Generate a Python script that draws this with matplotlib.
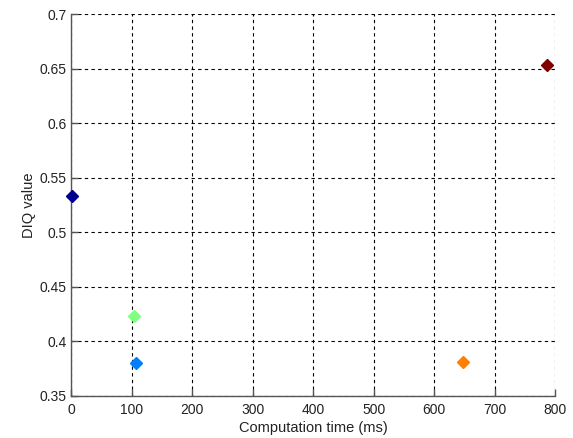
import matplotlib
matplotlib.use("Agg")
import matplotlib.pyplot as plt

# computation time (ms) vs DIQ value for each method
times = [2, 104, 107, 647, 786]
diq = [0.533, 0.4235, 0.380, 0.381, 0.653]
colors = ["#00008f", "#80ff80", "#0080ff", "#ff8000", "#800000"]

plt.rcParams['font.family'] = ['Liberation Sans', 'DejaVu Sans']

fig = plt.figure(figsize=(5.73, 4.38), dpi=100)
ax = fig.add_axes([0.124, 0.096, 0.845, 0.872])

for t, d, c in zip(times, diq, colors):
    ax.plot(t, d, marker='D', markersize=6, color=c, linestyle='none', clip_on=False, zorder=3)

ax.set_xlim(0, 800)
ax.set_ylim(0.35, 0.7)
ax.set_xticks(range(0, 801, 100))
ax.set_yticks([0.35, 0.4, 0.45, 0.5, 0.55, 0.6, 0.65, 0.7])
ax.set_yticklabels(['0.35', '0.4', '0.45', '0.5', '0.55', '0.6', '0.65', '0.7'])

ax.grid(True, linestyle=(0, (3, 3)), color='black', linewidth=0.8)
ax.set_axisbelow(True)

for side in ['top', 'right']:
    ax.spines[side].set_visible(False)
for side in ['left', 'bottom']:
    ax.spines[side].set_color('#555555')
    ax.spines[side].set_linewidth(1.0)

ax.tick_params(direction='in', length=5, width=1, color='#555555',
               labelsize=10, labelcolor='#222222', pad=3)
ax.tick_params(axis='x', pad=5)

ax.set_xlabel('Computation time (ms)', fontsize=10.5, color='#222222', labelpad=3)
ax.set_ylabel('DIQ value', fontsize=10.5, color='#222222', labelpad=3)

fig.savefig('out.png', dpi=100)
